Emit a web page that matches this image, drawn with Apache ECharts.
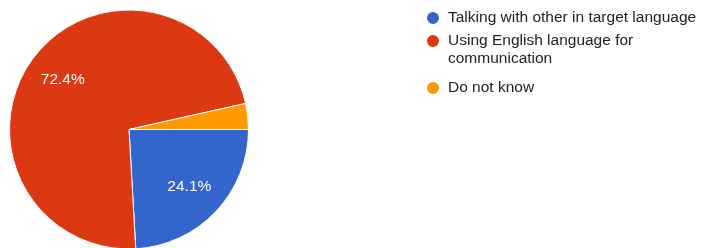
<!DOCTYPE html>
<html>
<head>
<meta charset="utf-8">
<script src="https://cdn.jsdelivr.net/npm/echarts@6/dist/echarts.min.js"></script>
<style>
  html, body { margin: 0; padding: 0; background: #fff; }
  #main { width: 708px; height: 248px; }
</style>
</head>
<body>
<div id="main"></div>
<script>
// answers, in the order they go round the pie (clockwise from 3 o'clock)
const categories = [
  'Talking with other in target language',
  'Using English language for communication',
  'Do not know'
];
const shares = [24.1, 72.4, 3.5];
const colors = ['#3366cc', '#dc3912', '#ff9900'];
// legend text as it wraps in the picture; the leading blank line of the
// wrapped entry keeps its dot level with the first line of text
const legendLabels = [
  'Talking with other in target language',
  '\nUsing English language for\ncommunication',
  'Do not know'
];

const chart = echarts.init(document.getElementById('main'));

const pieData = categories.map((name, i) => ({name: name, value: shares[i]}));
const font = '"Liberation Sans", Arial, sans-serif';

// one legend per entry so each can sit where the picture has it
const legendTops = [9, 14, 79];
const legends = categories.map((name, i) => ({
  orient: 'vertical',
  left: 425,
  top: legendTops[i],
  padding: 0,
  icon: 'circle',
  itemWidth: 14,
  itemHeight: 14,
  data: [name],
  formatter: () => legendLabels[i],
  textStyle: {
    fontFamily: font,
    fontSize: 15.5,
    color: '#222222',
    lineHeight: 18,
    padding: [0, 0, 0, 3]
  }
}));

chart.setOption({
  animation: false,
  color: colors,
  legend: legends,
  series: [
    {
      type: 'pie',
      center: [129, 129.5],
      radius: [0, 119.5],
      startAngle: 0,
      clockwise: true,
      silent: true,
      data: pieData,
      label: {show: false},
      labelLine: {show: false},
      itemStyle: {borderColor: '#ffffff', borderWidth: 1}
    },
    {
      // invisible copy, only used to put the percent labels at ~0.68 r
      type: 'pie',
      center: [129, 129.5],
      radius: [0, 160],
      startAngle: 0,
      clockwise: true,
      silent: true,
      z: 3,
      data: pieData,
      itemStyle: {color: 'rgba(0,0,0,0)'},
      label: {
        show: true,
        position: 'inside',
        formatter: (p) => p.value >= 5 ? p.value.toFixed(1) + '%' : '',
        color: '#ffffff',
        fontFamily: font,
        fontSize: 15.5
      },
      labelLine: {show: false}
    }
  ]
});
</script>
</body>
</html>
